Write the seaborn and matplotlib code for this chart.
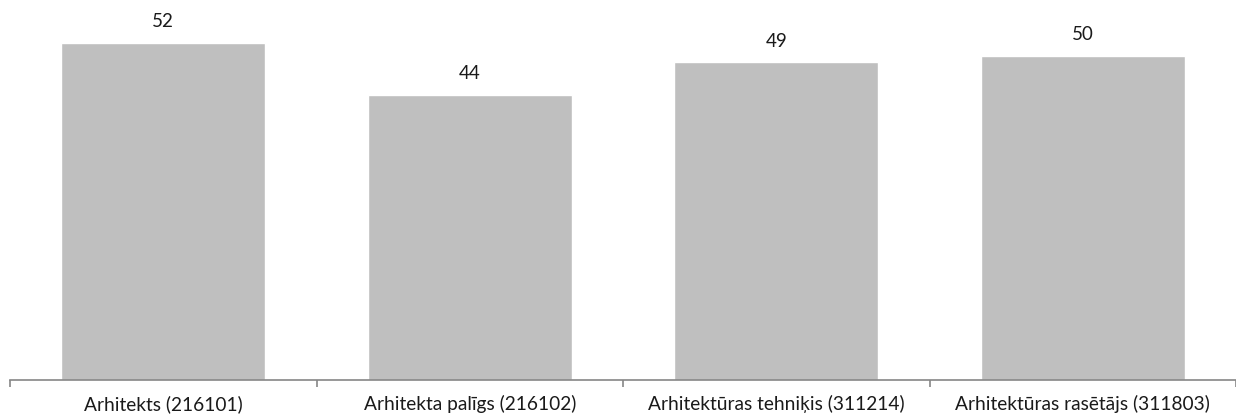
import matplotlib
matplotlib.use("Agg")
import matplotlib.pyplot as plt
import seaborn as sns
import pandas as pd
from matplotlib.ticker import FixedLocator

categories = ["Arhitekts (216101)", "Arhitekta palīgs (216102)",
              "Arhitektūras tehniķis (311214)", "Arhitektūras rasētājs (311803)"]
values = [52, 44, 49, 50]

sns.set_theme(style="white")
plt.rcParams['font.family'] = ['Lato', 'DejaVu Sans']

df = pd.DataFrame({"cat": categories, "val": values})
fig = plt.figure(figsize=(12.36, 4.18), dpi=100)
ax = fig.add_axes([10/1236, 38/418, 1 - 10/1236, 1 - 38/418])
sns.barplot(data=df, x="cat", y="val", color="#BFBFBF", width=0.667,
            saturation=1, ax=ax)
ax.set_xlim(-0.5, 3.5)
ax.set_ylim(0, 58.6)
for c in ax.containers:
    ax.bar_label(c, labels=[str(v) for v in values], padding=9, fontsize=13.5, color="#1a1a1a")
for s in ["top", "right", "left"]:
    ax.spines[s].set_visible(False)
ax.spines["bottom"].set_color("#868686")
ax.spines["bottom"].set_linewidth(1.2)
ax.set_yticks([])
ax.set_xlabel("")
ax.set_ylabel("")
ax.tick_params(axis="x", which="major", length=0, pad=11, labelsize=13.8, labelcolor="#1a1a1a")
ax.xaxis.set_minor_locator(FixedLocator([-0.5, 0.5, 1.5, 2.5, 3.5]))
ax.tick_params(axis="x", which="minor", length=5, width=1.2, color="#868686", bottom=True)
fig.savefig("out.png", dpi=100)
